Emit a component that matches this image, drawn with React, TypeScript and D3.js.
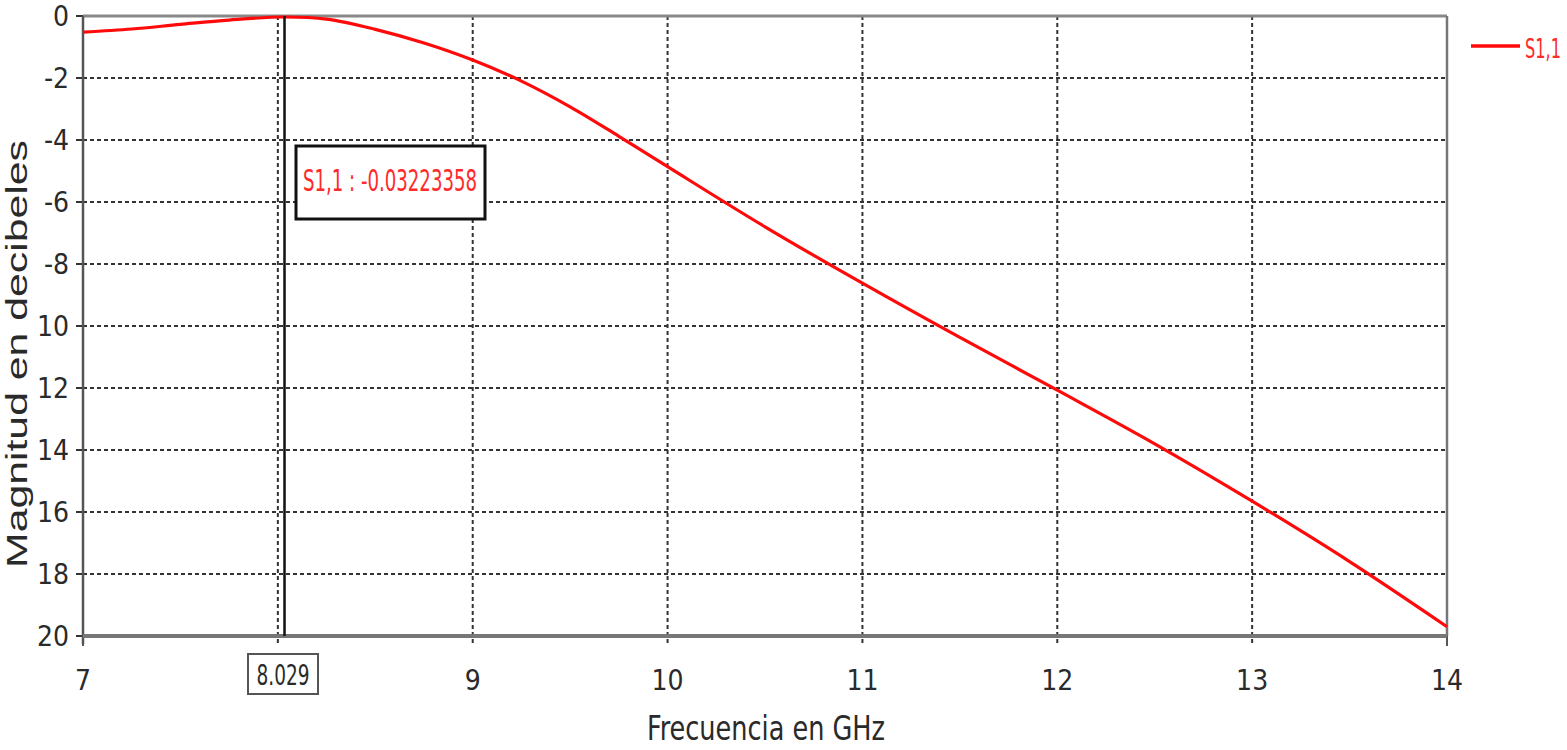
import React from "react";
import * as d3 from "d3";

const freqGHz = [7, 7.25, 7.5, 7.75, 8.029, 8.25, 8.5, 8.75, 9, 9.25, 9.5, 9.75, 10, 10.5, 11, 11.5, 12, 12.5, 13, 13.5, 14];
const s11dB = [-0.52, -0.42, -0.27, -0.13, -0.032, -0.1, -0.43, -0.87, -1.42, -2.1, -2.93, -3.88, -4.86, -6.8, -8.62, -10.37, -12.07, -13.8, -15.65, -17.6, -19.7];
const xTicks = [7, 8, 9, 10, 11, 12, 13, 14];
const xTickLabels = ["7", "", "9", "10", "11", "12", "13", "14"];
const yTicks = [0, -2, -4, -6, -8, -10, -12, -14, -16, -18, -20];
const yTickLabels = ["0", "-2", "-4", "-6", "-8", "10", "12", "14", "16", "18", "20"];
const markerFreq = 8.029;
const markerLabel = "8.029";
const markerText = "S1,1 : -0.03223358";
const seriesName = "S1,1";

const W = 1567, H = 750;
const L = 83, R = 1447, T = 16, B = 636;
const narrow = "'Liberation Sans Narrow', 'DejaVu Sans Condensed', 'Liberation Sans', sans-serif";
const textCol = "#2a2a2a";

export default function App() {
  const x = d3.scaleLinear().domain([7, 14]).range([L, R]);
  const y = d3.scaleLinear().domain([0, -20]).range([T, B]);
  const line = d3.line<number>().x((_, i) => x(freqGHz[i])).y((d) => y(d)).curve(d3.curveCatmullRom.alpha(0.5));
  const mx = x(markerFreq) + 1;

  return (
    <svg width={W} height={H} style={{ position: "absolute", left: 0, top: 0, background: "#fff" }}>
      {/* grid */}
      {yTicks.slice(1, -1).map((t) => (
        <line key={"gy" + t} x1={L} x2={R} y1={y(t)} y2={y(t)} stroke="#333" strokeWidth={2} strokeDasharray="4 3" />
      ))}
      {xTicks.slice(1, -1).map((t) => (
        <line key={"gx" + t} x1={x(t)} x2={x(t)} y1={T} y2={B + 10} stroke="#333" strokeWidth={2} strokeDasharray="4 3" />
      ))}
      {[xTicks[0], xTicks[xTicks.length - 1]].map((t) => (
        <line key={"tk" + t} x1={x(t)} x2={x(t)} y1={B} y2={B + 10} stroke="#555" strokeWidth={2} />
      ))}
      {yTicks.map((t) => (
        <line key={"ty" + t} x1={L - 7} x2={L} y1={y(t)} y2={y(t)} stroke="#333" strokeWidth={2} />
      ))}
      {/* frame */}
      <line x1={L} x2={R} y1={T} y2={T} stroke="#888" strokeWidth={3} />
      <line x1={R} x2={R} y1={T} y2={B} stroke="#777" strokeWidth={2.5} />
      <line x1={L} x2={L} y1={T} y2={B + 8} stroke="#555" strokeWidth={2.5} />
      <line x1={L} x2={R} y1={B} y2={B} stroke="#777" strokeWidth={4} />

      {/* curve */}
      <path d={line(s11dB) || ""} fill="none" stroke="#ff0a0a" strokeWidth={3.2} />

      {/* marker */}
      <line x1={mx} x2={mx} y1={T} y2={B} stroke="#111" strokeWidth={2.5} />
      <rect x={296} y={146} width={189} height={73} fill="#fff" stroke="#111" strokeWidth={3} />
      <text x={390} y={191} textAnchor="middle" fill="#ff2a2a" fontFamily={narrow} fontSize={30} textLength={174} lengthAdjust="spacingAndGlyphs">{markerText}</text>
      <rect x={248} y={654} width={70} height={40} fill="#fff" stroke="#555" strokeWidth={2} />
      <text x={283} y={685} textAnchor="middle" fill={textCol} fontFamily={narrow} fontSize={28} textLength={53} lengthAdjust="spacingAndGlyphs">{markerLabel}</text>

      {/* tick labels */}
      {yTicks.map((t, i) => (
        <text key={"yl" + t} x={69} y={y(t) + 10} textAnchor="end" fill={textCol} fontFamily={narrow} fontSize={28}>{yTickLabels[i]}</text>
      ))}
      {xTicks.map((t, i) => (
        <text key={"xl" + t} x={x(t)} y={690} textAnchor="middle" fill={textCol} fontFamily={narrow} fontSize={28}>{xTickLabels[i]}</text>
      ))}

      {/* titles */}
      <text x={766} y={740} textAnchor="middle" fill={textCol} fontFamily={narrow} fontSize={34} textLength={238} lengthAdjust="spacingAndGlyphs">Frecuencia en GHz</text>
      <text transform={`translate(27,354) rotate(-90)`} textAnchor="middle" fill={textCol} fontFamily="'Liberation Sans', sans-serif" fontSize={29} textLength={428} lengthAdjust="spacingAndGlyphs">Magnitud en decibeles</text>

      {/* legend */}
      <line x1={1471} x2={1520} y1={46} y2={46} stroke="#ff0a0a" strokeWidth={3.5} />
      <text x={1525} y={58} fill="#ff2a2a" fontFamily={narrow} fontSize={27} textLength={36} lengthAdjust="spacingAndGlyphs">{seriesName}</text>
    </svg>
  );
}
